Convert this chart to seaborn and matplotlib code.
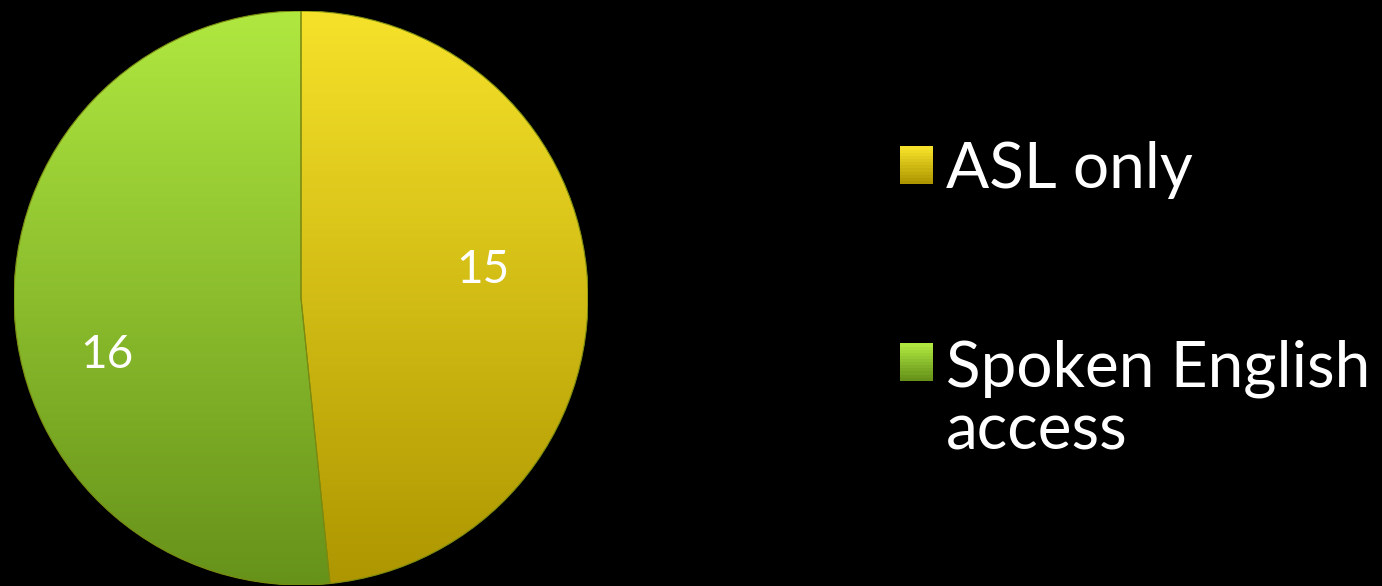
import numpy as np
import matplotlib
matplotlib.use("Agg")
import matplotlib.pyplot as plt
import seaborn as sns
from matplotlib.colors import LinearSegmentedColormap
from matplotlib.patches import Rectangle, Wedge
from matplotlib.legend_handler import HandlerBase

categories = ["ASL only", "Spoken English\naccess"]
values = [15, 16]
top_colors = ["#f6e22a", "#b0e840"]
bottom_colors = ["#ad9600", "#66921a"]
mid_colors = ["#d9c200", "#8cc22a"]

sns.set_style("dark", {"axes.facecolor": "black", "figure.facecolor": "black"})
plt.rcParams['font.family'] = ['Lato', 'DejaVu Sans']

W, H = 1382, 586
fig = plt.figure(figsize=(W / 100, H / 100), dpi=100, facecolor="black")
cx, cy, r = 301, 298, 287
ax = fig.add_axes([(cx - r) / W, (H - cy - r) / H, 2 * r / W, 2 * r / H])
ax.set_facecolor("black")

wedges, texts, autotexts = ax.pie(
    values, colors=mid_colors, startangle=90, counterclock=False,
    autopct=lambda p: f"{round(p * sum(values) / 100):d}", pctdistance=0.67,
    radius=1, wedgeprops=dict(edgecolor="none", linewidth=0),
    textprops=dict(color="white", fontsize=33))

grad = np.linspace(0, 1, 256).reshape(-1, 1)
for w, c0, c1 in zip(wedges, top_colors, bottom_colors):
    cmap = LinearSegmentedColormap.from_list("g", [c1, c0])
    im = ax.imshow(grad, cmap=cmap, extent=(-1, 1, -1, 1), origin="lower",
                   aspect="auto", zorder=3)
    im.set_clip_path(w)
for w in wedges:
    ax.add_patch(Wedge(w.center, w.r, w.theta1, w.theta2, facecolor="none",
                       edgecolor="#7a8a10", linewidth=0.8, zorder=5))

# label placement inside slices (as in the original)
label_pos = [(0.634, 0.098), (-0.676, -0.20)]
for t, p in zip(autotexts, label_pos):
    t.set_position(p)
    t.set_zorder(10)

ax.set_xlim(-1, 1)
ax.set_ylim(-1, 1)
ax.set_aspect("auto")
ax.axis("off")


class GradSquare(HandlerBase):
    def __init__(self, top, bottom, yshift=0):
        super().__init__()
        self.top, self.bottom, self.yshift = top, bottom, yshift

    def create_artists(self, legend, orig_handle, xdescent, ydescent, width,
                       height, fontsize, trans):
        n = 12
        arts = []
        c0 = np.array(matplotlib.colors.to_rgb(self.top))
        c1 = np.array(matplotlib.colors.to_rgb(self.bottom))
        for i in range(n):
            f = i / (n - 1)
            col = c1 * (1 - f) + c0 * f
            arts.append(Rectangle((-xdescent, -ydescent + self.yshift + height * i / n),
                                  width, height / n + 0.3, facecolor=col,
                                  edgecolor="none", transform=trans))
        return arts


leg = fig.legend(wedges, categories, loc="upper left",
                 bbox_to_anchor=(900 / W, 1 - 141 / H), frameon=False,
                 fontsize=46, handlelength=0.52, handleheight=0.52,
                 handletextpad=0.2, labelspacing=2.2, labelcolor="white",
                 borderpad=0, borderaxespad=0,
                 handler_map={wedges[0]: GradSquare(top_colors[0], bottom_colors[0]),
                              wedges[1]: GradSquare(top_colors[1], bottom_colors[1], 28)})
for t in leg.get_texts():
    t.set_linespacing(1.1)

fig.savefig("out.png", dpi=100, facecolor="black")
